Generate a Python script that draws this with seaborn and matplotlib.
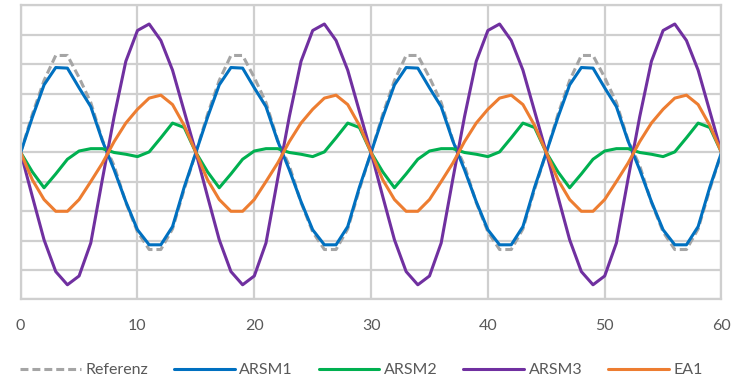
import matplotlib
matplotlib.use("Agg")
import matplotlib.pyplot as plt
import seaborn as sns
import pandas as pd

# x positions
x_values = list(range(0, 61))

referenz = [0, 1.3, 2.45, 3.3, 3.3, 2.55, 1.7, 0.42, -0.45, -1.7, -2.7, -3.3, -3.3, -2.6, -1.25,
            0, 1.3, 2.45, 3.3, 3.3, 2.55, 1.7, 0.42, -0.45, -1.7, -2.7, -3.3, -3.3, -2.6, -1.25,
            0, 1.3, 2.45, 3.3, 3.3, 2.55, 1.7, 0.42, -0.45, -1.7, -2.7, -3.3, -3.3, -2.6, -1.25,
            0, 1.3, 2.45, 3.3, 3.3, 2.55, 1.7, 0.42, -0.45, -1.7, -2.7, -3.3, -3.3, -2.6, -1.25,
            0]
arsm1 = [0, 1.2, 2.3, 2.89, 2.87, 2.2, 1.56, 0.39, -0.59, -1.67, -2.63, -3.14, -3.14, -2.52, -1.18,
         0, 1.2, 2.3, 2.89, 2.87, 2.2, 1.56, 0.39, -0.59, -1.67, -2.63, -3.14, -3.14, -2.52, -1.18,
         0, 1.2, 2.3, 2.89, 2.87, 2.2, 1.56, 0.39, -0.59, -1.67, -2.63, -3.14, -3.14, -2.52, -1.18,
         0, 1.2, 2.3, 2.89, 2.87, 2.2, 1.56, 0.39, -0.59, -1.67, -2.63, -3.14, -3.14, -2.52, -1.18,
         0]
arsm2 = [0, -0.66, -1.2, -0.73, -0.23, 0.05, 0.13, 0.13, 0.0, -0.06, -0.14, 0.02, 0.5, 1.0, 0.85,
         0, -0.66, -1.2, -0.73, -0.23, 0.05, 0.13, 0.13, 0.0, -0.06, -0.14, 0.02, 0.5, 1.0, 0.85,
         0, -0.66, -1.2, -0.73, -0.23, 0.05, 0.13, 0.13, 0.0, -0.06, -0.14, 0.02, 0.5, 1.0, 0.85,
         0, -0.66, -1.2, -0.73, -0.23, 0.05, 0.13, 0.13, 0.0, -0.06, -0.14, 0.02, 0.5, 1.0, 0.85,
         0]
arsm3 = [0, -1.5, -2.97, -4.05, -4.5, -4.2, -3.08, -0.9, 1.22, 3.1, 4.15, 4.37, 3.81, 2.8, 1.4,
         0, -1.5, -2.97, -4.05, -4.5, -4.2, -3.08, -0.9, 1.22, 3.1, 4.15, 4.37, 3.81, 2.8, 1.4,
         0, -1.5, -2.97, -4.05, -4.5, -4.2, -3.08, -0.9, 1.22, 3.1, 4.15, 4.37, 3.81, 2.8, 1.4,
         0, -1.5, -2.97, -4.05, -4.5, -4.2, -3.08, -0.9, 1.22, 3.1, 4.15, 4.37, 3.81, 2.8, 1.4,
         0]
ea1 = [0, -0.93, -1.6, -2.0, -2.0, -1.6, -0.99, -0.36, 0.37, 1.0, 1.47, 1.85, 1.95, 1.63, 0.92,
       0, -0.93, -1.6, -2.0, -2.0, -1.6, -0.99, -0.36, 0.37, 1.0, 1.47, 1.85, 1.95, 1.63, 0.92,
       0, -0.93, -1.6, -2.0, -2.0, -1.6, -0.99, -0.36, 0.37, 1.0, 1.47, 1.85, 1.95, 1.63, 0.92,
       0, -0.93, -1.6, -2.0, -2.0, -1.6, -0.99, -0.36, 0.37, 1.0, 1.47, 1.85, 1.95, 1.63, 0.92,
       0]

series_names = ["Referenz", "ARSM1", "ARSM2", "ARSM3", "EA1"]
series_values = [referenz, arsm1, arsm2, arsm3, ea1]
x_ticks = [0, 10, 20, 30, 40, 50, 60]

colors = {"Referenz": "#A5A5A5", "ARSM1": "#0070C0", "ARSM2": "#00B050",
          "ARSM3": "#7030A0", "EA1": "#ED7D31"}
dash_map = {"Referenz": (2.6, 1.3), "ARSM1": "", "ARSM2": "", "ARSM3": "", "EA1": ""}

rows = []
for name, vals in zip(series_names, series_values):
    for xv, yv in zip(x_values, vals):
        rows.append({"x": xv, "y": yv, "series": name})
df = pd.DataFrame(rows)

sns.set_theme(style="white")
plt.rcParams["font.family"] = ["Lato", "DejaVu Sans"]

fig = plt.figure(figsize=(7.31, 3.79), dpi=100)
ax = fig.add_axes([0.0283, 0.2098, 0.9587, 0.7757])

sns.lineplot(data=df, x="x", y="y", hue="series", style="series",
             hue_order=series_names, style_order=series_names,
             palette=colors, dashes=dash_map, linewidth=2.2, ax=ax, legend=True)

ax.set_xlim(0, 60)
ax.set_ylim(-5, 5)
ax.set_xticks(x_ticks)
ax.set_xticklabels([str(t) for t in x_ticks])
ax.set_yticks(range(-5, 6))
ax.set_yticklabels([])
ax.set_xlabel("")
ax.set_ylabel("")
ax.grid(True, color="#cfcfcf", linewidth=1.6)
ax.set_axisbelow(True)
for sp in ax.spines.values():
    sp.set_color("#cfcfcf")
    sp.set_linewidth(1.6)
ax.tick_params(axis="both", length=0, colors="#595959", labelsize=11.5)
ax.tick_params(axis="x", pad=14)

handles, labels = ax.get_legend_handles_labels()
ax.get_legend().remove()
leg = fig.legend(handles, labels, loc="center", bbox_to_anchor=(0.4945, 1 - 370 / 379),
                 ncol=5, frameon=False, handlelength=3.8, handletextpad=0.3,
                 columnspacing=1.6, fontsize=11.5, labelcolor="#595959")
for line in leg.get_lines():
    line.set_linewidth(2.2)

fig.savefig("out.png", dpi=100)
